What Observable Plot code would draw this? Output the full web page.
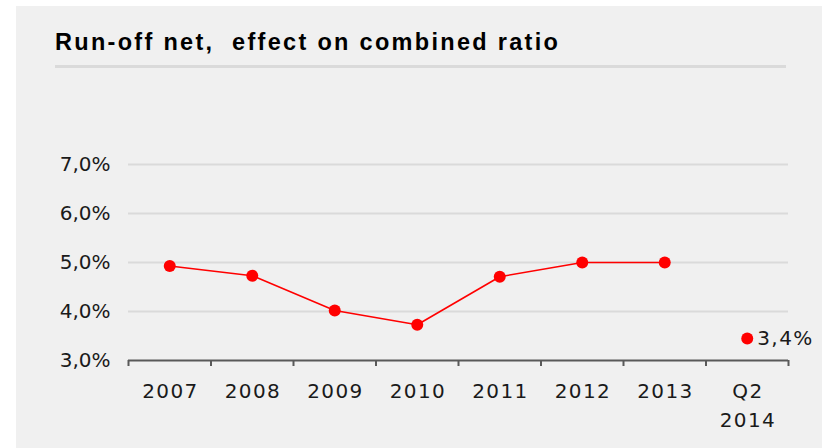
<!DOCTYPE html>
<html>
<head>
<meta charset="utf-8">
<script src="https://cdn.jsdelivr.net/npm/d3@7"></script>
<script src="https://cdn.jsdelivr.net/npm/@observablehq/plot@0.6"></script>
<style>
  html, body { margin: 0; padding: 0; background: #ffffff; }
  #page { position: relative; width: 822px; height: 448px; overflow: hidden; font-family: "DejaVu Sans", Verdana, sans-serif; }
  #panel { position: absolute; left: 16px; top: 6px; width: 806px; height: 442px; background: #f0f0f0; }
  #title { position: absolute; left: 55px; top: 31px; font-family: "Liberation Sans", Arial, sans-serif; font-size: 23.5px; line-height: 23.5px; letter-spacing: 2.3px; font-weight: bold; color: #000; white-space: pre; }
  #rule { position: absolute; left: 55px; top: 65px; width: 731px; height: 3px; background: #dadada; }
  #chart { position: absolute; left: 0; top: 100px; }
  .xlab text { letter-spacing: 1.4px; }
</style>
</head>
<body>
<div id="page">
  <div id="panel"></div>
  <div id="title">Run-off net,  effect on combined ratio</div>
  <div id="rule"></div>
  <div id="chart"></div>
</div>
<script>
const categories = ["2007", "2008", "2009", "2010", "2011", "2012", "2013", "Q2\n2014"];
const lineValues = [4.93, 4.73, 4.02, 3.73, 4.71, 5.0, 5.0];
const latestValue = 3.45;
const latestLabel = "3,4%";
const yTicks = [3, 4, 5, 6, 7];

const lineData = lineValues.map((v, i) => ({x: i + 0.5, y: v}));
const latestData = [{x: categories.length - 0.5, y: latestValue, label: latestLabel}];
const fmt = v => v.toFixed(1).replace(".", ",") + "%";

const chart = Plot.plot({
  width: 822,
  height: 348,
  marginLeft: 128,
  marginRight: 34,
  marginTop: 64,
  marginBottom: 88,
  style: {background: "transparent", fontFamily: "DejaVu Sans, Verdana, sans-serif", fontSize: "20px", color: "#1a1a1a"},
  x: {type: "linear", domain: [0, categories.length], label: null},
  y: {domain: [3, 7], label: null},
  marks: [
    Plot.ruleY(yTicks.filter(t => t > 3), {y: d => d, stroke: "#dadada", strokeWidth: 2}),
    Plot.axisY({ticks: yTicks, tickFormat: fmt, tickSize: 0, tickPadding: 18, fontSize: 20, fill: "#1a1a1a", label: null}),
    Plot.axisX({ticks: d3.range(0, categories.length + 1), tickSize: 6, tickFormat: () => "", stroke: "#595959", strokeWidth: 2, label: null}),
    Plot.axisX({ticks: d3.range(categories.length).map(i => i + 0.5), tickSize: 0, tickPadding: 17, tickFormat: (d) => categories[Math.floor(d)], fontSize: 20, fill: "#1a1a1a", lineHeight: 1.45, label: null, className: "xlab", dx: 0.7}),
    Plot.ruleY([3], {stroke: "#595959", strokeWidth: 2}),
    Plot.line(lineData, {x: "x", y: "y", stroke: "#ff0000", strokeWidth: 1.6}),
    Plot.dot(lineData, {x: "x", y: "y", r: 6, fill: "#ff0000"}),
    Plot.dot(latestData, {x: "x", y: "y", r: 6, fill: "#ff0000"}),
    Plot.text(latestData, {x: "x", y: "y", text: "label", dx: 10, textAnchor: "start", fontSize: 20, fill: "#1a1a1a", className: "xlab"})
  ]
});
document.getElementById("chart").appendChild(chart);
</script>
</body>
</html>
